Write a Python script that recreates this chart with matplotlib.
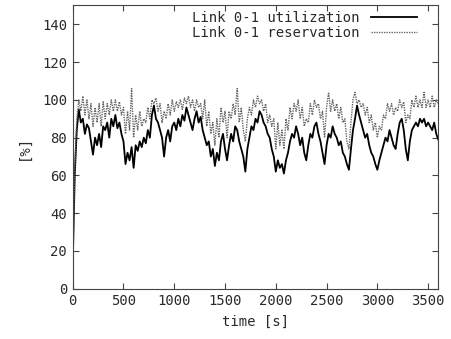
import matplotlib
matplotlib.use("Agg")
import matplotlib.pyplot as plt
import numpy as np

step_s = 20
utilization = [
    12, 60, 84, 95, 88, 90, 82, 87, 85, 78, 71, 80, 76, 82, 75, 86, 84, 88, 80, 90,
    86, 92, 85, 88, 82, 78, 66, 72, 68, 75, 64, 76, 73, 78, 75, 80, 77, 84, 80, 92,
    97, 90, 88, 84, 80, 70, 80, 84, 78, 86, 88, 84, 90, 86, 92, 89, 96, 92, 88, 84,
    90, 94, 88, 91, 84, 80, 76, 78, 70, 74, 65, 72, 68, 78, 82, 74, 68, 76, 82, 78,
    86, 84, 78, 74, 70, 62, 74, 80, 86, 84, 90, 88, 94, 92, 88, 86, 82, 80, 74, 70,
    62, 68, 64, 66, 61, 68, 72, 78, 82, 80, 86, 82, 76, 80, 72, 68, 76, 82, 80, 86,
    88, 82, 78, 72, 66, 76, 82, 80, 86, 82, 80, 76, 78, 72, 70, 66, 63, 74, 84, 90,
    97, 92, 88, 84, 80, 82, 76, 72, 70, 66, 63, 68, 72, 76, 80, 78, 84, 80, 76, 74,
    82, 88, 90, 84, 74, 68, 78, 84, 86, 88, 86, 90, 88, 90, 86, 88, 86, 84, 88, 82,
    79,
]
reservation = [
    14, 62, 90, 100, 94, 102, 92, 100, 90, 98, 86, 96, 88, 98, 86, 99, 90, 98, 92, 100,
    94, 100, 94, 99, 92, 96, 82, 94, 84, 106, 80, 92, 84, 94, 86, 90, 88, 96, 90, 100,
    98, 101, 94, 98, 88, 94, 90, 98, 92, 100, 94, 99, 96, 100, 95, 101, 98, 102, 96, 100,
    94, 100, 96, 98, 90, 100, 86, 94, 82, 88, 76, 90, 80, 96, 88, 94, 80, 94, 90, 98,
    92, 106, 88, 96, 84, 78, 90, 96, 92, 100, 96, 102, 98, 100, 94, 98, 88, 92, 86, 90,
    74, 88, 76, 84, 74, 90, 84, 96, 90, 98, 94, 100, 90, 96, 86, 90, 88, 98, 92, 100,
    96, 98, 90, 94, 80, 96, 104, 94, 100, 94, 98, 90, 96, 88, 90, 78, 74, 88, 100, 104,
    98, 100, 96, 98, 92, 96, 88, 92, 84, 88, 80, 86, 84, 92, 90, 98, 94, 98, 92, 96,
    94, 100, 96, 99, 88, 92, 90, 100, 96, 102, 96, 100, 96, 104, 96, 100, 96, 102, 96, 100,
    98,
]
x_ticks = [0, 500, 1000, 1500, 2000, 2500, 3000, 3500]
y_ticks = [0, 20, 40, 60, 80, 100, 120, 140]

t_util = np.arange(len(utilization)) * step_s
t_res = np.arange(len(reservation)) * step_s

plt.rcParams["font.family"] = ["DejaVu Sans Mono"]
txt = "#2a2a2a"

fig = plt.figure(figsize=(4.51, 3.39), dpi=100)
ax = fig.add_axes([0.1612, 0.1484, 0.8106, 0.8354])

ax.plot(t_util, utilization, color="black", linewidth=1.3, label="Link 0-1 utilization")
ax.plot(t_res, reservation, color="#666666", linewidth=1.0, linestyle=(0, (1, 0.8)),
        label="Link 0-1 reservation")

ax.set_xlim(0, 3600)
ax.set_ylim(0, 150)
ax.set_xticks(x_ticks)
ax.set_yticks(y_ticks)
ax.tick_params(direction="in", length=4, width=0.8, top=True, right=True,
               labelsize=10, labelcolor=txt, color="#444444", pad=4)
for s in ax.spines.values():
    s.set_linewidth(0.8)
    s.set_color("#444444")

ax.set_xlabel("time [s]", fontsize=10, color=txt, labelpad=5)
ax.set_ylabel("[%]", fontsize=10, color=txt, labelpad=8)

leg = ax.legend(loc="upper right", bbox_to_anchor=(0.975, 1.025), frameon=False,
                markerfirst=False, handlelength=3.3, handletextpad=0.8,
                labelspacing=0.05, prop={"size": 10})
for t in leg.get_texts():
    t.set_color(txt)

fig.savefig("out.png", dpi=100)
